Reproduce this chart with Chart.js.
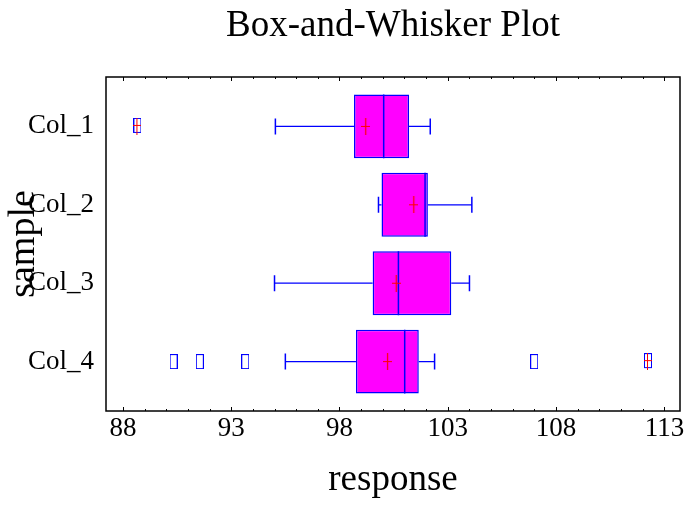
<!DOCTYPE html>
<html>
<head>
<meta charset="utf-8">
<script src="https://cdn.jsdelivr.net/npm/chart.js@4"></script>
<style>body{margin:0;background:#fff}</style>
</head>
<body>
<canvas id="myChart" width="686" height="506"></canvas>
<script>
// box-and-whisker values
var samples = ['Col_1', 'Col_2', 'Col_3', 'Col_4'];
var whiskLow = [95.04, 99.8, 95.0, 95.5];
var q1 = [98.67, 99.94, 99.53, 98.76];
var median = [100.04, 101.95, 100.72, 101.01];
var q3 = [101.21, 102.08, 103.16, 101.66];
var whiskHigh = [102.19, 104.11, 104.0, 102.39];
var means = [99.21, 101.43, 100.62, 100.22];
// outside points (small boxes), far outside points (boxes with a plus)
var outsideSample = ['Col_4', 'Col_4', 'Col_4', 'Col_4'];
var outsideValue = [90.34, 91.55, 93.65, 106.99];
var farSample = ['Col_1', 'Col_4'];
var farValue = [88.67, 112.24];
var xTicks = [88, 93, 98, 103, 108, 113];

var serif = "'Liberation Serif', 'Times New Roman', serif";
var BLUE = '#0000ff', RED = '#ff0000', MAGENTA = '#ff00ff';

function marker(w, h, draw) {
  var c = document.createElement('canvas');
  c.width = w;
  c.height = h;
  draw(c.getContext('2d'));
  return c;
}
var outsideImg = marker(8, 15, function (g) {
  g.strokeStyle = BLUE; g.lineWidth = 1;
  g.strokeRect(0.5, 0.5, 7, 14);
});
var farImg = marker(8, 17, function (g) {
  g.strokeStyle = BLUE; g.lineWidth = 1;
  g.strokeRect(0.5, 0.5, 7, 14);
  g.strokeStyle = RED;
  g.beginPath();
  g.moveTo(3.5, 0); g.lineTo(3.5, 17);
  g.moveTo(0, 7.5); g.lineTo(8, 7.5);
  g.stroke();
});
var meanImg = marker(9, 17, function (g) {
  g.strokeStyle = RED; g.lineWidth = 1.2;
  g.beginPath();
  g.moveTo(4.5, 0); g.lineTo(4.5, 17);
  g.moveTo(0, 8.5); g.lineTo(9, 8.5);
  g.stroke();
});

function pos(name) { return samples.indexOf(name) + 1; }

// whiskers and median lines go on top of the boxes
var boxExtras = {
  id: 'boxExtras',
  afterDatasetDraw: function (chart, args) {
    if (args.meta.type !== 'bar') return;
    var ctx = chart.ctx, x = chart.scales.x, y = chart.scales.y;
    var box = args.meta.data;
    ctx.save();
    ctx.strokeStyle = BLUE;
    for (var i = 0; i < samples.length; i++) {
      var py = y.getPixelForValue(i + 1);
      var half = box[i].height / 2;
      ctx.lineWidth = 1.2;
      ctx.beginPath();
      ctx.moveTo(x.getPixelForValue(whiskLow[i]), py);
      ctx.lineTo(x.getPixelForValue(q1[i]), py);
      ctx.moveTo(x.getPixelForValue(q3[i]), py);
      ctx.lineTo(x.getPixelForValue(whiskHigh[i]), py);
      ctx.stroke();
      ctx.lineWidth = 1.5;
      ctx.beginPath();
      [whiskLow[i], whiskHigh[i]].forEach(function (v) {
        var px = x.getPixelForValue(v);
        ctx.moveTo(px, py - 8);
        ctx.lineTo(px, py + 8);
      });
      var pm = x.getPixelForValue(median[i]);
      ctx.moveTo(pm, py - half);
      ctx.lineTo(pm, py + half);
      ctx.stroke();
    }
    ctx.restore();
  },
  afterDraw: function (chart) {
    var ctx = chart.ctx, a = chart.chartArea, x = chart.scales.x;
    ctx.save();
    ctx.strokeStyle = '#000';
    ctx.lineWidth = 1;
    ctx.beginPath();
    for (var v = Math.ceil(x.min); v <= x.max; v++) {
      var px = Math.round(x.getPixelForValue(v)) + 0.5;
      var len = xTicks.indexOf(v) >= 0 ? 4 : 2;
      ctx.moveTo(px, a.top); ctx.lineTo(px, a.top + len);
      ctx.moveTo(px, a.bottom); ctx.lineTo(px, a.bottom - len);
    }
    ctx.stroke();
    ctx.lineWidth = 1.5;
    ctx.strokeRect(a.left, a.top, a.right - a.left, a.bottom - a.top);
    ctx.restore();
  }
};

var ctx = document.getElementById('myChart').getContext('2d');
var chart = new Chart(ctx, {
  type: 'bar',
  data: {
    datasets: [
      {
        type: 'scatter',
        data: means.map(function (m, i) { return { x: m, y: i + 1 }; }),
        pointStyle: meanImg,
        pointRadius: 5,
      },
      {
        type: 'scatter',
        data: farValue.map(function (v, i) { return { x: v, y: pos(farSample[i]) }; }),
        pointStyle: farImg,
        pointRadius: 5,
      },
      {
        type: 'scatter',
        data: outsideValue.map(function (v, i) { return { x: v, y: pos(outsideSample[i]) }; }),
        pointStyle: outsideImg,
        pointRadius: 5,
      },
      {
        type: 'bar',
        data: samples.map(function (s, i) { return { x: [q1[i], q3[i]], y: i + 1 }; }),
        backgroundColor: MAGENTA,
        borderColor: BLUE,
        borderWidth: 1.5,
        borderSkipped: false,
        barPercentage: 0.815,
        categoryPercentage: 1,
      },
    ]
  },
  options: {
    indexAxis: 'y',
    responsive: false,
    animation: false,
    layout: { padding: { left: 0, right: 1, top: 0, bottom: 0 } },
    scales: {
      x: {
        type: 'linear',
        min: 87.22,
        max: 113.72,
        grid: { display: false, drawTicks: false },
        border: { display: false },
        ticks: { font: { family: serif, size: 27 }, color: '#000', padding: 2, maxRotation: 0, autoSkip: false },
        afterBuildTicks: function (s) { s.ticks = xTicks.map(function (v) { return { value: v }; }); },
        afterFit: function (s) { s.height = 95; s.paddingLeft = 0; s.paddingRight = 0; },
        title: {
          display: true, text: 'response', color: '#000',
          font: { family: serif, size: 37 },
          padding: { top: 0, bottom: 3.8 }
        }
      },
      y: {
        type: 'linear',
        reverse: true,
        offset: false,
        min: 0.37,
        max: 4.63,
        grid: { display: false, drawTicks: false, offset: false },
        border: { display: false },
        ticks: {
          font: { family: serif, size: 27 }, color: '#000', padding: 12,
          callback: function (v) { return samples[v - 1]; }
        },
        afterBuildTicks: function (s) { s.ticks = samples.map(function (c, i) { return { value: i + 1 }; }); },
        afterFit: function (s) { s.width = 106; s.paddingTop = 0; s.paddingBottom = 0; },
        title: {
          display: true, text: 'sample', color: '#000',
          font: { family: serif, size: 38 },
          padding: { top: 1.5, bottom: 0 }
        }
      }
    },
    plugins: {
      legend: { display: false },
      tooltip: { enabled: false },
      title: {
        display: true,
        fullSize: false,
        text: 'Box-and-Whisker Plot',
        color: '#000',
        font: { family: serif, size: 37, weight: 'normal' },
        padding: { top: 4, bottom: 28.6 }
      }
    }
  },
  plugins: [boxExtras]
});
</script>
</body>
</html>
